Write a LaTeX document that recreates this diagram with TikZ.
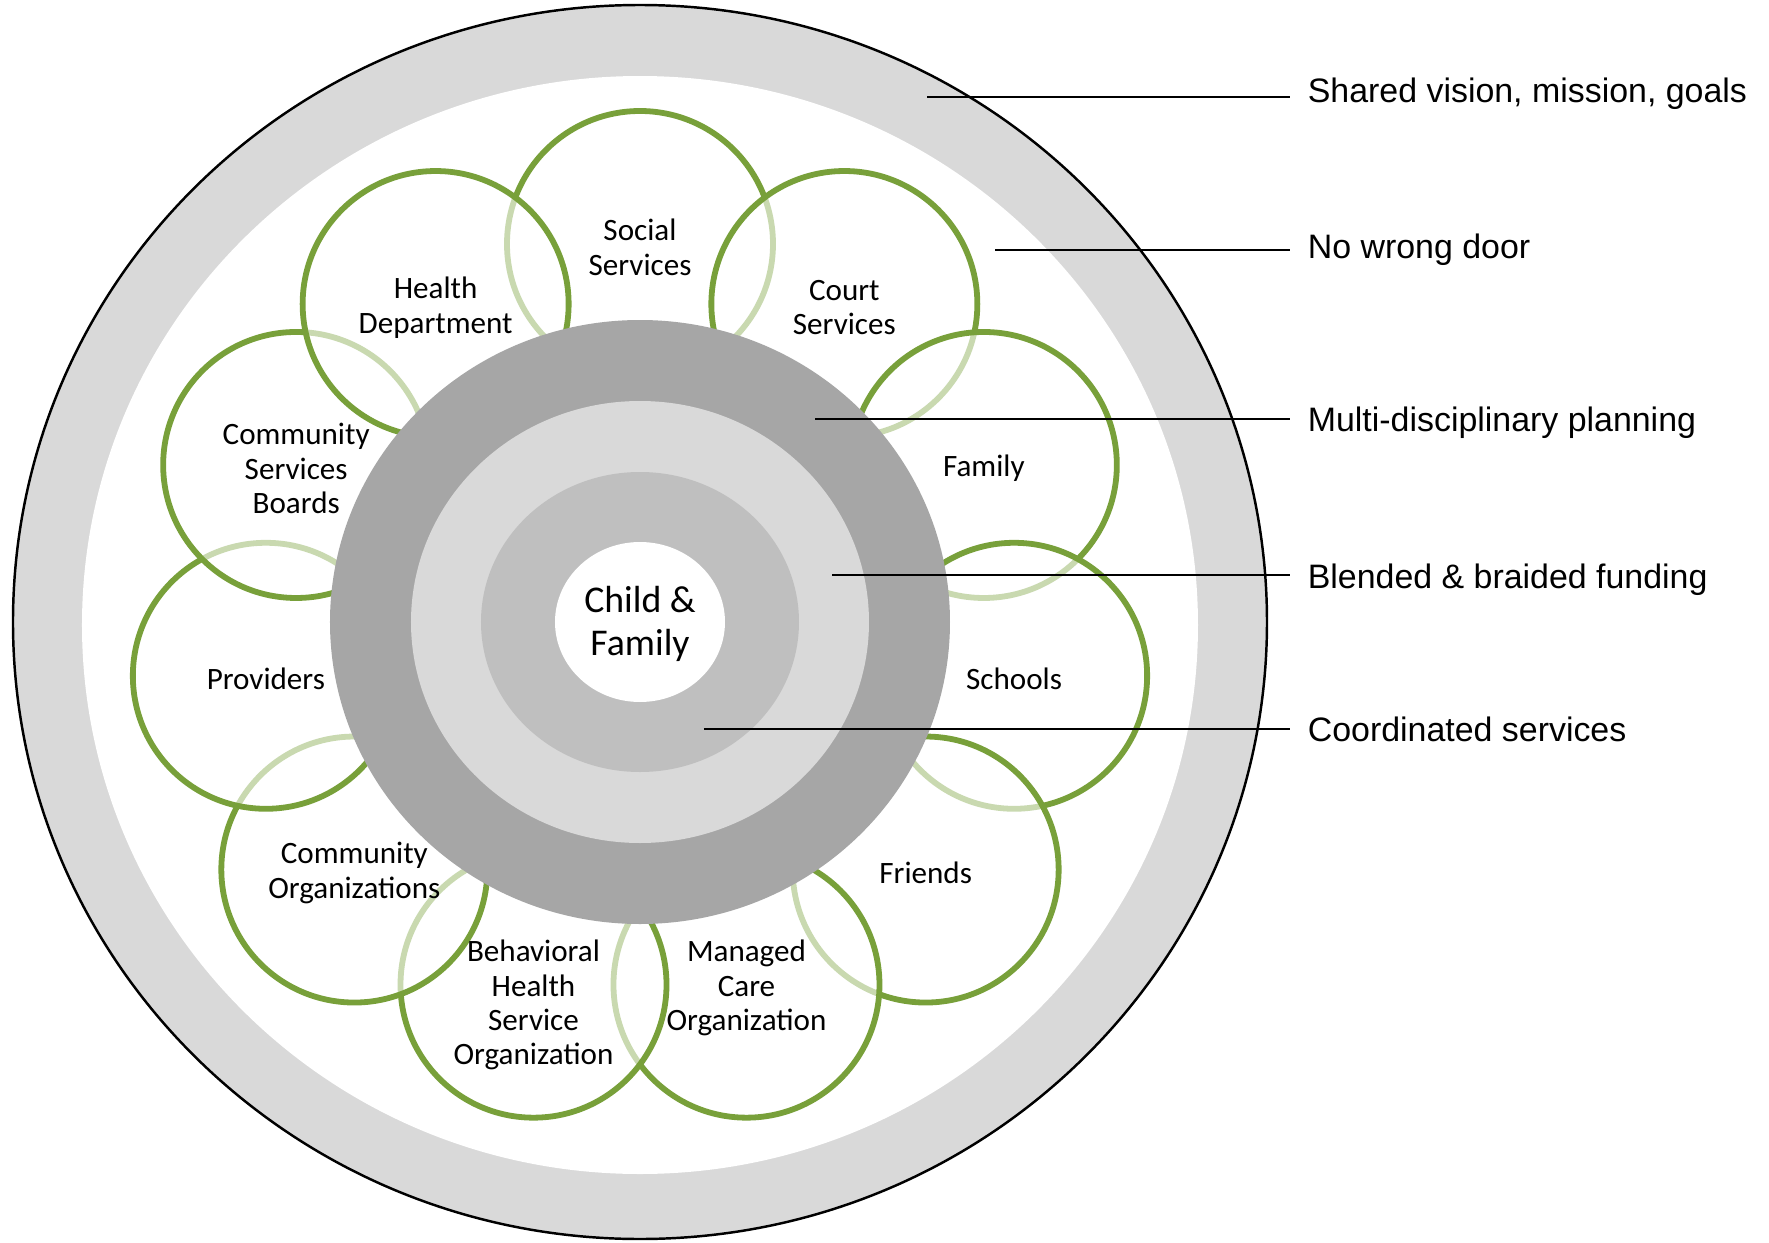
\documentclass[tikz,border=0pt]{standalone}
\usepackage{fontspec}
\setmainfont{Carlito}
\newfontfamily\arialfont{Liberation Sans}
\definecolor{petalgreen}{RGB}{120,160,58}
\definecolor{visiongray}{RGB}{217,217,217}
\definecolor{plangray}{RGB}{166,166,166}
\definecolor{fundgray}{RGB}{217,217,217}
\definecolor{servgray}{RGB}{191,191,191}

\begin{document}
\begin{tikzpicture}[x=0.02cm,y=0.02cm,
petal/.style={draw=petalgreen,line width=3.3pt,fill=white,fill opacity=0.6},
petaltext/.style={align=center,yshift=-0.07cm,font=\fontsize{17.7}{19.6}\selectfont},
lbl/.style={anchor=west,font=\arialfont\fontsize{19.3}{23}\selectfont,text height=0.716em,text depth=0pt,inner xsep=0.35cm},
pointer/.style={line width=1.1pt}]
\useasboundingbox (-640,-620) rectangle (1129,622);
% outer ring
\draw[line width=1.4pt,fill=visiongray] (0,0) ellipse [x radius=627,y radius=617];
\fill[white] (0,-3) ellipse [x radius=558,y radius=549];
% the eleven partners, drawn clockwise from the top
\foreach \i in {0,...,10}
  \coordinate (c\i) at (90-\i*32.7273:378);
\foreach \i in {0,...,10}
  \draw[petal] (c\i) circle (133);
% core rings
\fill[plangray] (0,0) ellipse [x radius=310,y radius=302];
\fill[fundgray] (0,0) ellipse [x radius=229,y radius=221];
\fill[servgray] (0,0) ellipse [x radius=159,y radius=150];
\fill[white] (0,0) ellipse [x radius=85,y radius=80];
\node at (0,-3) (child) {\fontsize{21.5}{24.4}\selectfont\begin{tabular}{c}Child \&\\Family\end{tabular}};
% partner names
\node[petaltext] at (c0) (social) {Social\\Services};
\node[petaltext] at (c1) (court) {Court\\Services};
\node[petaltext] at (c2) (family) {Family};
\node[petaltext] at (c3) (schools) {Schools};
\node[petaltext] at (c4) (friends) {Friends};
\node[petaltext] at (c5) (managed) {Managed\\Care\\Organization};
\node[petaltext,yshift=-0.34cm] at (c6) (behav) {Behavioral\\Health\\Service\\Organization};
\node[petaltext] at (c7) (commorg) {Community\\Organizations};
\node[petaltext] at (c8) (providers) {Providers};
\node[petaltext] at (c9) (csb) {Community\\Services\\Boards};
\node[petaltext] at (c10) (health) {Health\\Department};
% labels on the right
\coordinate (vision-pt) at (287,525);
\coordinate (door-pt) at (355,372);
\coordinate (plan-pt) at (175,203);
\coordinate (fund-pt) at (192,47);
\coordinate (serv-pt) at (64,-107);
\node[lbl] at (650,526) (vision) {Shared vision, mission, goals};
\node[lbl] at (650,370) (door) {No wrong door};
\node[lbl] at (650,197) (plan) {Multi-disciplinary planning};
\node[lbl] at (650,40) (fund) {Blended \& braided funding};
\node[lbl] at (650,-113) (serv) {Coordinated services};
\draw[pointer] (vision-pt) -- (vision-pt -| vision.west);
\draw[pointer] (door-pt) -- (door-pt -| door.west);
\draw[pointer] (plan-pt) -- (plan-pt -| plan.west);
\draw[pointer] (fund-pt) -- (fund-pt -| fund.west);
\draw[pointer] (serv-pt) -- (serv-pt -| serv.west);
\end{tikzpicture}
\end{document}
